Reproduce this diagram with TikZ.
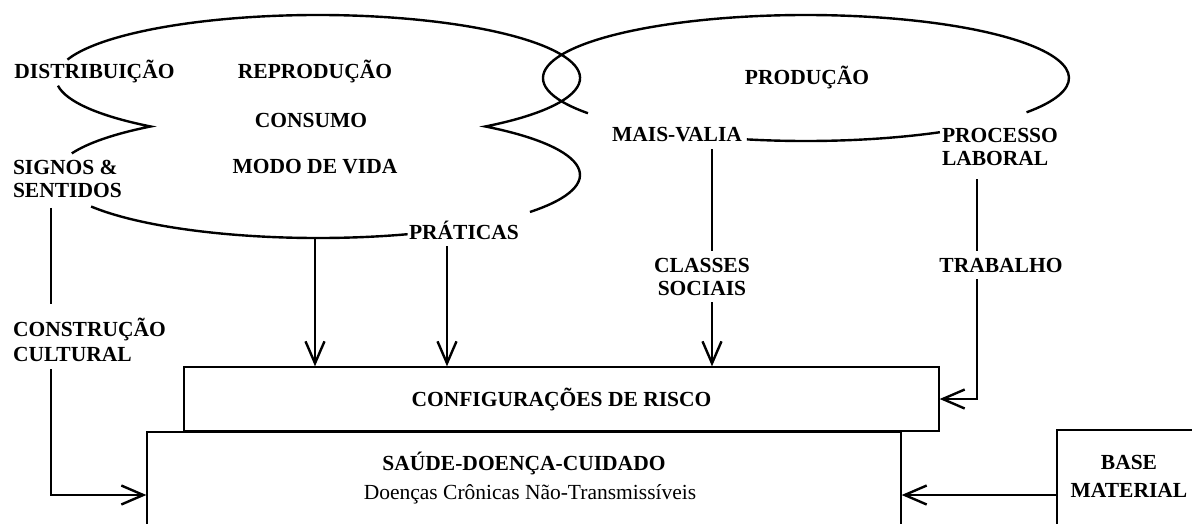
\documentclass[tikz,border=0pt]{standalone}
\usepackage{fontspec}
\setmainfont{Liberation Serif}
\usetikzlibrary{arrows.meta}

\begin{document}
\begin{tikzpicture}[x = 1pt, y = 1pt,
	rotulo/.style = {font = \fontsize{21.5}{23}\selectfont\bfseries, inner sep = 0pt, outer sep = 7pt},
	texto/.style = {font = \fontsize{21.5}{23}\selectfont, inner sep = 0pt},
	linha/.style = {line width = 2.4pt},
	seta/.style = {line width = 2.4pt, -{Straight Barb[length = 22pt, width = 19pt]}},
	caixa/.style = {draw, line width = 1.3pt, inner sep = 0pt}]
	\clip ( 0, 0 ) rectangle ( 1192, -523 );

	% nuvem do consumo
	\draw[linha] ( 318, -78 ) ++( 163 : 262 and 63 ) arc [start angle = 163, end angle = -50.3, x radius = 262, y radius = 63]
		arc [start angle = 50.3, end angle = -36, x radius = 262, y radius = 63];
	\draw[linha] ( 318, -78 ) ++( 187 : 262 and 63 ) arc [start angle = 187, end angle = 230.3, x radius = 262, y radius = 63]
		arc [start angle = 129.7, end angle = 160, x radius = 262, y radius = 63];
	\draw[linha] ( 318, -175 ) ++( 210 : 262 and 63 ) arc [start angle = 210, end angle = 290, x radius = 262, y radius = 63];

	% elipse da producao
	\draw[linha] ( 806, -78 ) ++( 214 : 263 and 63 ) arc [start angle = 214, end angle = -33, x radius = 263, y radius = 63];
	\draw[linha] ( 806, -78 ) ++( -59.4 : 263 and 63 ) arc [start angle = -59.4, end angle = -103, x radius = 263, y radius = 63];

	\node [rotulo] (distribuicao) at ( 94.5, -71 ) {DISTRIBUIÇÃO};
	\node [rotulo] (reproducao) at ( 315, -71 ) {REPRODUÇÃO};
	\node [rotulo] (consumo) at ( 311, -120 ) {CONSUMO};
	\node [rotulo] (modo) at ( 315, -167 ) {MODO DE VIDA};
	\node [rotulo, anchor = west, align = left, outer sep = 0pt] (signos) at ( 13, -179 ) {SIGNOS \&\\SENTIDOS};
	\node [rotulo] (praticas) at ( 464, -230 ) {PRÁTICAS};
	\node [rotulo] (producao) at ( 807, -77 ) {PRODUÇÃO};
	\node [rotulo] (mais) at ( 677, -135 ) {MAIS-VALIA};
	\node [rotulo, anchor = west, align = left, outer sep = 0pt] (processo) at ( 942, -146.5 ) {PROCESSO\\LABORAL};
	\node [rotulo, align = center] (classes) at ( 702, -276.5 ) {CLASSES\\SOCIAIS};
	\node [rotulo] (trabalho) at ( 1001, -265 ) {TRABALHO};
	\node [rotulo, anchor = west, align = left, outer sep = 0pt] (construcao) at ( 13, -339.5 ) {CONSTRUÇÃO\\[2pt]CULTURAL};

	\node [caixa, minimum width = 755pt, minimum height = 64pt, font = \fontsize{21.5}{23}\selectfont\bfseries] (config) at ( 561.5, -399 ) {CONFIGURAÇÕES DE RISCO};
	\node [caixa, minimum width = 754pt, minimum height = 126pt] (saude) at ( 524, -495 ) {};
	\node [rotulo] (cuidado) at ( 524, -463 ) {SAÚDE-DOENÇA-CUIDADO};
	\node [texto] (doencas) at ( 530, -494 ) {Doenças Crônicas Não-Transmissíveis};
	\node [caixa, line width = 2.4pt, minimum width = 144pt, minimum height = 130pt] (base) at ( 1129, -495 ) {};
	\node [rotulo, align = center] (material) at ( 1129, -476 ) {BASE\\[5pt]MATERIAL};

	\coordinate (eixoC) at ( 51, 0 );
	\coordinate (eixoP) at ( 447, 0 );
	\coordinate (eixoM) at ( 712, 0 );
	\coordinate (eixoT) at ( 977, 0 );
	\coordinate (fundo) at ( 315, -238 );

	\draw[linha] ([yshift = -10pt] signos.south -| eixoC) -- ([yshift = 14pt] construcao.north -| eixoC);
	\draw[seta] ([yshift = -8pt] construcao.south -| eixoC) |- (saude.west);
	\draw[seta] (fundo) -- (fundo |- config.north);
	\draw[seta] (praticas.south -| eixoP) -- (eixoP |- config.north);
	\draw[linha] (mais.south -| eixoM) -- (classes.north -| eixoM);
	\draw[seta] (classes.south -| eixoM) -- (eixoM |- config.north);
	\draw[linha] ([yshift = -14pt] processo.south -| eixoT) -- (trabalho.north -| eixoT);
	\draw[seta] (trabalho.south -| eixoT) |- (config.east);
	\draw[seta] (base.west) -- (saude.east);
\end{tikzpicture}
\end{document}
